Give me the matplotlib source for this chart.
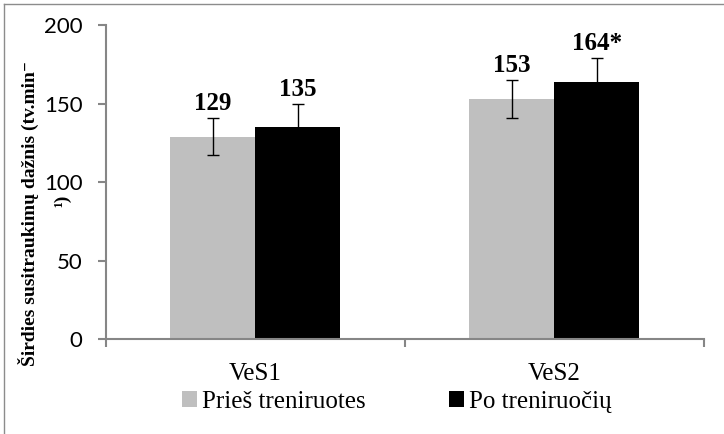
import numpy as np
import matplotlib
matplotlib.use("Agg")
import matplotlib.pyplot as plt
from matplotlib.patches import Patch
from matplotlib.lines import Line2D

categories = ["VeS1", "VeS2"]
series_names = ["Prieš treniruotes", "Po treniruočių"]
before = [129, 153]
after = [135, 164]
before_err = [12, 12]
after_err = [15, 15]
before_labels = ["129", "153"]
after_labels = ["135", "164*"]
yticks = [0, 50, 100, 150, 200]

SERIF = ["Liberation Serif", "DejaVu Serif"]
GRAY_AX = "#868686"

fig = plt.figure(figsize=(7.24, 4.34), dpi=100)
ax = fig.add_axes([0.146, 0.219, 0.8264, 0.7228])

x = np.arange(len(categories))
w = 0.284
series = [
    (before, before_err, before_labels, "#BFBFBF", -w / 2),
    (after, after_err, after_labels, "#000000", w / 2),
]
for vals, errs, labs, col, off in series:
    ax.bar(x + off, vals, width=w, color=col, zorder=2)
    ax.errorbar(x + off, vals, yerr=errs, fmt="none", ecolor="black",
                elinewidth=1.0, capsize=4, capthick=1.0, zorder=3)
    for xi, v, e, lab in zip(x + off, vals, errs, labs):
        ax.annotate(lab, (xi, v + e), xytext=(0, 2), textcoords="offset points",
                    ha="center", va="bottom", fontsize=18, fontweight="bold",
                    family=SERIF)

ax.set_xlim(-0.5, len(categories) - 0.5)
ax.set_ylim(0, 200)
ax.set_yticks(yticks)
ax.set_yticklabels([str(t) for t in yticks], family="Lato", fontsize=16)
ax.tick_params(axis="y", length=5.8, width=1.5, color=GRAY_AX, pad=11)

ax.set_xticks(x)
ax.set_xticklabels(categories, family=SERIF, fontsize=18)
ax.set_xticks(np.arange(len(categories) + 1) - 0.5, minor=True)
ax.tick_params(axis="x", which="major", length=0, pad=17)
ax.tick_params(axis="x", which="minor", length=5.8, width=1.5, color=GRAY_AX)

for s in ["top", "right"]:
    ax.spines[s].set_visible(False)
for s in ["left", "bottom"]:
    ax.spines[s].set_color(GRAY_AX)
    ax.spines[s].set_linewidth(1.5)

# y axis title, wrapped onto two lines as in the original
fig.text(0.039, 0.509, "Širdies susitraukimų dažnis (tv.min⁻", rotation=90,
         ha="center", va="center", fontsize=14, fontweight="bold", family=SERIF)
fig.text(0.086, 0.537, "¹)", rotation=90, ha="center", va="center",
         fontsize=14, fontweight="bold", family=SERIF)

handles = [Patch(facecolor="#BFBFBF"), Patch(facecolor="#000000")]
leg = fig.legend(handles, series_names, loc="center", bbox_to_anchor=(0.548, 0.074),
                 ncol=2, frameon=False, fontsize=18,
                 handlelength=0.6, handleheight=0.6, handletextpad=0.2,
                 columnspacing=3.3)
for t in leg.get_texts():
    t.set_family(SERIF)

# outer chart frame (only left and top visible in the original)
fig.add_artist(Line2D([4 / 724, 4 / 724], [0, 1 - 4 / 434],
                      transform=fig.transFigure, color="#8c8c8c", lw=1))
fig.add_artist(Line2D([4 / 724, 1], [1 - 4 / 434, 1 - 4 / 434],
                      transform=fig.transFigure, color="#8c8c8c", lw=1))

fig.savefig("out.png", dpi=100)
